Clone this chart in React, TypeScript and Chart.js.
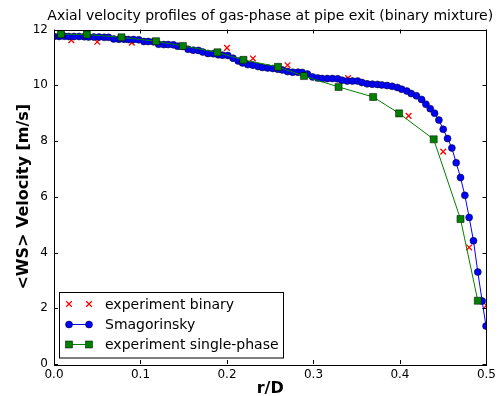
import React, { useEffect, useRef } from "react";
import { Chart, registerables } from "chart.js";
Chart.register(...registerables);

const TITLE = "Axial velocity profiles of gas-phase at pipe exit (binary mixture)";
const X_TITLE = "r/D";
const Y_TITLE = "<WS> Velocity [m/s]";
const X_TICKS = [0, 0.1, 0.2, 0.3, 0.4, 0.5];
const Y_TICKS = [0, 2, 4, 6, 8, 10, 12];
const LEGEND_LABELS = ["experiment binary", "Smagorinsky", "experiment single-phase"];

const binaryR = [0.02, 0.05, 0.09, 0.2, 0.23, 0.27, 0.34, 0.41, 0.45, 0.48, 0.5];
const binaryV = [11.62, 11.56, 11.53, 11.34, 10.96, 10.72, 10.26, 8.9, 7.62, 4.18, 2.1];

const singleR = [0.008, 0.038, 0.078, 0.118, 0.149, 0.189, 0.219, 0.259, 0.289, 0.329, 0.369, 0.399, 0.439, 0.47, 0.49];
const singleV = [11.83, 11.82, 11.72, 11.58, 11.41, 11.18, 10.91, 10.66, 10.33, 9.94, 9.58, 8.99, 8.06, 5.2, 2.27];

const smagR = [
  0, 0.006, 0.012, 0.017, 0.023, 0.029, 0.035, 0.04, 0.046, 0.052, 0.058, 0.063, 0.069, 0.075, 0.081, 0.086,
  0.092, 0.098, 0.104, 0.109, 0.115, 0.121, 0.127, 0.132, 0.138, 0.143, 0.149, 0.155, 0.161, 0.167, 0.172,
  0.178, 0.184, 0.19, 0.195, 0.201, 0.207, 0.213, 0.218, 0.224, 0.23, 0.236, 0.241, 0.247, 0.253, 0.259,
  0.264, 0.27, 0.276, 0.282, 0.287, 0.293, 0.299, 0.305, 0.31, 0.316, 0.322, 0.328, 0.333, 0.339, 0.345,
  0.351, 0.356, 0.362, 0.368, 0.374, 0.379, 0.385, 0.391, 0.397, 0.402, 0.408, 0.413, 0.419, 0.425, 0.43,
  0.435, 0.44, 0.445, 0.45, 0.455, 0.46, 0.465, 0.47, 0.475, 0.48, 0.485, 0.49, 0.495, 0.4995,
];
const smagV = [
  11.75, 11.75, 11.76, 11.75, 11.75, 11.75, 11.74, 11.73, 11.73, 11.73, 11.72, 11.72, 11.66, 11.65, 11.65, 11.64,
  11.64, 11.63, 11.57, 11.57, 11.56, 11.47, 11.46, 11.46, 11.45, 11.4, 11.39, 11.29, 11.26, 11.25, 11.19,
  11.14, 11.13, 11.09, 11.08, 11.07, 10.97, 10.87, 10.8, 10.74, 10.72, 10.67, 10.64, 10.62, 10.6, 10.57,
  10.55, 10.49, 10.47, 10.47, 10.46, 10.4, 10.3, 10.26, 10.24, 10.24, 10.24, 10.23, 10.18, 10.15, 10.15,
  10.15, 10.1, 10.05, 10.04, 10.03, 10.01, 9.99, 9.96, 9.92, 9.86, 9.79, 9.7, 9.62, 9.49, 9.32,
  9.16, 9.0, 8.75, 8.42, 8.09, 7.75, 7.22, 6.69, 6.05, 5.26, 4.42, 3.3, 2.26, 1.36,
];

const FONT = "'DejaVu Sans', sans-serif";

const decorPlugin = {
  id: "decor",
  afterDatasetsDraw(chart: any) {
    const { ctx, chartArea, scales } = chart;
    const { left, right, top, bottom } = chartArea;
    ctx.save();
    // frame
    ctx.strokeStyle = "#000";
    ctx.lineWidth = 1;
    ctx.strokeRect(Math.round(left) + 0.5, Math.round(top) + 0.5, Math.round(right - left), Math.round(bottom - top));
    // ticks inward
    const L = 4;
    ctx.beginPath();
    X_TICKS.forEach((v) => {
      const x = Math.round(scales.x.getPixelForValue(v)) + 0.5;
      ctx.moveTo(x, bottom);
      ctx.lineTo(x, bottom - L);
      ctx.moveTo(x, top);
      ctx.lineTo(x, top + L);
    });
    Y_TICKS.forEach((v) => {
      const y = Math.round(scales.y.getPixelForValue(v)) + 0.5;
      ctx.moveTo(left, y);
      ctx.lineTo(left + L, y);
      ctx.moveTo(right, y);
      ctx.lineTo(right - L, y);
    });
    ctx.stroke();

    // titles
    ctx.fillStyle = "#000";
    ctx.font = `14px ${FONT}`;
    ctx.textAlign = "center";
    ctx.textBaseline = "alphabetic";
    ctx.fillText(TITLE, (left + right) / 2, 19.5);

    ctx.font = `bold 16px ${FONT}`;
    ctx.fillText(X_TITLE, (left + right) / 2, 393);

    ctx.save();
    ctx.translate(28, (top + bottom) / 2);
    ctx.rotate(-Math.PI / 2);
    ctx.fillText(Y_TITLE, 0, 0);
    ctx.restore();

    // legend
    const bx = 59.5, by = 292.5, bw = 224, bh = 65.5;
    ctx.fillStyle = "#fff";
    ctx.fillRect(bx, by, bw, bh);
    ctx.strokeStyle = "#000";
    ctx.lineWidth = 1;
    ctx.strokeRect(bx, by, bw, bh);
    const rows = [304, 324, 344];
    const mx = [69, 89];
    // red crosses
    ctx.strokeStyle = "#ff0000";
    ctx.lineWidth = 1.3;
    mx.forEach((x) => {
      ctx.beginPath();
      ctx.moveTo(x - 2.8, rows[0] - 2.8);
      ctx.lineTo(x + 2.8, rows[0] + 2.8);
      ctx.moveTo(x - 2.8, rows[0] + 2.8);
      ctx.lineTo(x + 2.8, rows[0] - 2.8);
      ctx.stroke();
    });
    // blue line + circles
    ctx.strokeStyle = "#0000ff";
    ctx.lineWidth = 1;
    ctx.beginPath();
    ctx.moveTo(mx[0], rows[1] + 0.5);
    ctx.lineTo(mx[1], rows[1] + 0.5);
    ctx.stroke();
    mx.forEach((x) => {
      ctx.beginPath();
      ctx.arc(x, rows[1] + 0.5, 3.5, 0, Math.PI * 2);
      ctx.fillStyle = "#0000ff";
      ctx.fill();
      ctx.strokeStyle = "#000";
      ctx.lineWidth = 0.5;
      ctx.stroke();
    });
    // green line + squares
    ctx.strokeStyle = "#008000";
    ctx.lineWidth = 1;
    ctx.beginPath();
    ctx.moveTo(mx[0], rows[2] + 0.5);
    ctx.lineTo(mx[1], rows[2] + 0.5);
    ctx.stroke();
    mx.forEach((x) => {
      ctx.fillStyle = "#008000";
      ctx.fillRect(x - 3.5, rows[2] + 0.5 - 3.5, 7, 7);
      ctx.strokeStyle = "#000";
      ctx.lineWidth = 0.5;
      ctx.strokeRect(x - 3.5, rows[2] + 0.5 - 3.5, 7, 7);
    });
    ctx.fillStyle = "#000";
    ctx.font = `14px ${FONT}`;
    ctx.textAlign = "left";
    ctx.textBaseline = "middle";
    LEGEND_LABELS.forEach((t, i) => ctx.fillText(t, 105, rows[i] + 1));
    ctx.restore();
  },
};

export default function App() {
  const ref = useRef<HTMLCanvasElement>(null);
  useEffect(() => {
    document.body.style.margin = "0";
    const canvas = ref.current!;
    const chart = new Chart(canvas, {
      type: "scatter",
      data: {
        datasets: [
          {
            label: LEGEND_LABELS[0],
            data: binaryR.map((r, i) => ({ x: r, y: binaryV[i] })),
            showLine: false,
            pointStyle: "crossRot",
            pointRadius: 4,
            pointHoverRadius: 4,
            borderColor: "#ff0000",
            backgroundColor: "#ff0000",
            pointBorderWidth: 1.3,
            order: 2,
          },
          {
            label: LEGEND_LABELS[1],
            data: smagR.map((r, i) => ({ x: r, y: smagV[i] })),
            showLine: true,
            borderColor: "#0000ff",
            borderWidth: 1,
            pointStyle: "circle",
            pointRadius: 3.5,
            pointHoverRadius: 3.5,
            pointBackgroundColor: "#0000ff",
            pointBorderColor: "#000",
            pointBorderWidth: 0.5,
            order: 1,
          },
          {
            label: LEGEND_LABELS[2],
            data: singleR.map((r, i) => ({ x: r, y: singleV[i] })),
            showLine: true,
            borderColor: "#008000",
            borderWidth: 1,
            pointStyle: "rect",
            pointRadius: 5,
            pointHoverRadius: 5,
            pointBackgroundColor: "#008000",
            pointBorderColor: "#000",
            pointBorderWidth: 0.5,
            order: 0,
          },
        ],
      },
      options: {
        animation: false,
        responsive: false,
        devicePixelRatio: 1,
        events: [],
        layout: { padding: { top: 29.5, right: 12, bottom: 0, left: 0 } },
        plugins: { legend: { display: false }, title: { display: false }, tooltip: { enabled: false } },
        scales: {
          x: {
            type: "linear",
            min: 0,
            max: 0.5,
            grid: { display: false, drawTicks: false },
            border: { display: false },
            afterBuildTicks: (s: any) => {
              s.ticks = X_TICKS.map((v) => ({ value: v }));
            },
            ticks: {
              color: "#000",
              font: { family: FONT, size: 12 },
              padding: 4,
              maxRotation: 0,
              callback: (v: any) => Number(v).toFixed(1),
            },
            afterFit: (s: any) => {
              s.height = 32;
            },
          },
          y: {
            type: "linear",
            min: 0,
            max: 12,
            grid: { display: false, drawTicks: false },
            border: { display: false },
            afterBuildTicks: (s: any) => {
              s.ticks = Y_TICKS.map((v) => ({ value: v }));
            },
            ticks: {
              color: "#000",
              font: { family: FONT, size: 12 },
              padding: 6,
              callback: (v: any) => String(v),
            },
            afterFit: (s: any) => {
              s.width = 54;
            },
          },
        },
      },
      plugins: [decorPlugin],
    });
    return () => chart.destroy();
  }, []);
  return (
    <div style={{ width: 500, height: 396 }}>
      <canvas ref={ref} width={500} height={396} style={{ display: "block" }} />
    </div>
  );
}
